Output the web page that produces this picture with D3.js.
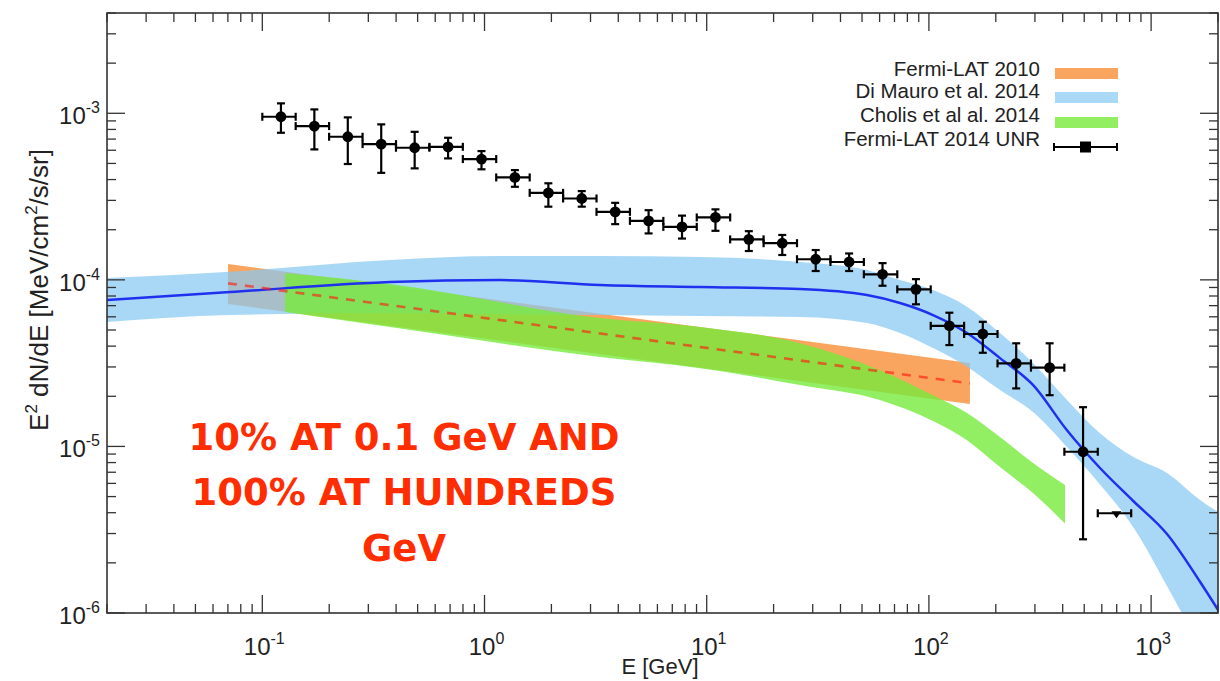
<!DOCTYPE html>
<html><head><meta charset="utf-8">
<script src="https://cdn.jsdelivr.net/npm/d3@7"></script>
<style>body{margin:0;background:#fff}svg{display:block}</style>
</head><body><svg id="c" width="1220" height="681"></svg>
<script>
// ---- Fermi-LAT 2014 UNR data points (E [GeV], E^2 dN/dE) ----
const eU = [0.1213,0.1715,0.2425,0.3429,0.4849,0.6855,0.9692,1.370,1.938,2.739,3.873,5.476,7.743,10.95,15.47,21.88,30.94,43.74,61.84,87.44,123.6,174.8,247.1,349.4,494.0];
const fluxU = [9.53e-4,8.38e-4,7.23e-4,6.53e-4,6.21e-4,6.29e-4,5.31e-4,4.12e-4,3.33e-4,3.08e-4,2.56e-4,2.26e-4,2.08e-4,2.37e-4,1.75e-4,1.66e-4,1.33e-4,1.28e-4,1.08e-4,8.77e-5,5.30e-5,4.73e-5,3.15e-5,2.97e-5,9.29e-6];
const fluxHiU = [1.147e-3,1.055e-3,9.45e-4,8.58e-4,7.74e-4,7.13e-4,5.93e-4,4.56e-4,3.80e-4,3.41e-4,2.90e-4,2.62e-4,2.43e-4,2.65e-4,1.96e-4,1.86e-4,1.51e-4,1.44e-4,1.26e-4,1.01e-4,6.35e-5,5.60e-5,4.16e-5,4.16e-5,1.72e-5];
const fluxLoU = [7.64e-4,6.07e-4,4.96e-4,4.39e-4,4.67e-4,5.36e-4,4.61e-4,3.62e-4,2.75e-4,2.75e-4,2.16e-4,1.90e-4,1.77e-4,1.97e-4,1.49e-4,1.41e-4,1.13e-4,1.13e-4,9.22e-5,7.13e-5,4.06e-5,3.65e-5,2.23e-5,2.03e-5,2.77e-6];
const binEdges = [0.1,0.1413,0.1998,0.2826,0.3996,0.5649,0.7988,1.129,1.597,2.258,3.192,4.513,6.380,9.020,12.75,18.03,25.49,36.05,50.96,72.05,101.9,144.0,203.6,287.9,407.0,575.4,813.5];
// upper limit
const ulE = [698.3];
const ulFlux = [3.97e-6];

// ---- Di Mauro et al. 2014 (band + central line) ----
const eDM = [0.02,0.0716,0.3756,1.174,3.31,9.33,26.3,52.6,74.1,104.3,148.4,208.9,294.0,418.2,588.8,828.6,1179,1660,2042];
const dmHi = [1.025e-4,1.12e-4,1.315e-4,1.39e-4,1.39e-4,1.37e-4,1.28e-4,1.145e-4,9.97e-5,8.69e-5,6.90e-5,4.80e-5,3.17e-5,1.90e-5,1.20e-5,8.67e-6,6.92e-6,4.77e-6,3.98e-6];
const dmLo = [5.58e-5,6.15e-5,6.32e-5,6.23e-5,6.15e-5,6.07e-5,5.98e-5,5.51e-5,4.80e-5,3.90e-5,3.01e-5,2.18e-5,1.61e-5,9.92e-6,5.9e-6,3.3e-6,1.45e-6,6e-7,3e-7];
const dmMid = [7.56e-5,8.45e-5,9.70e-5,9.97e-5,9.31e-5,9.05e-5,8.81e-5,8.10e-5,7.26e-5,6.15e-5,4.80e-5,3.39e-5,2.34e-5,1.25e-5,7.42e-6,4.72e-6,2.98e-6,1.54e-6,1.0e-6];

// ---- Fermi-LAT 2010 (band + dashed central line) ----
const eF10 = [0.0701,153];
const f10Hi = [1.244e-4,3.17e-5];
const f10Lo = [7.16e-5,1.80e-5];
const f10Mid = [9.53e-5,2.39e-5];

// ---- Cholis et al. 2014 band ----
const eCh = [0.1265,0.3756,3.31,9.33,26.3,60.2,104.3,148.4,208.9,294.0,409.7];
const chHi = [1.099e-4,9.44e-5,5.90e-5,5.21e-5,4.17e-5,2.87e-5,2.03e-5,1.59e-5,1.14e-5,7.95e-6,5.87e-6];
const chLo = [6.41e-5,5.21e-5,3.44e-5,2.95e-5,2.34e-5,1.90e-5,1.42e-5,1.09e-5,7.52e-6,5.25e-6,3.45e-6];

// ---- ticks / labels ----
const xMajor = [0.1,1,10,100,1000];
const xMajorExp = ["-1","0","1","2","3"];
const yMajor = [1e-6,1e-5,1e-4,1e-3];
const yMajorExp = ["-6","-5","-4","-3"];
const legendLabels = ["Fermi-LAT 2010","Di Mauro et al. 2014","Cholis et al al. 2014","Fermi-LAT 2014 UNR"];
const legendColors = ["#f9a55f","#aad8f7","#93ee62",null];
const noteLines = ["10% AT 0.1 GeV AND","100% AT HUNDREDS","GeV"];

// ---- layout ----
const L=107, R=1218, T=13, B=613;
const svg = d3.select("#c");
const x = d3.scaleLog().domain([0.02,2000]).range([L,R]);
const y = d3.scaleLog().domain([1e-6,4e-3]).range([B,T]);
const FONT = "'Liberation Sans', Arial, Helvetica, sans-serif";

svg.append("defs").append("clipPath").attr("id","clip")
  .append("rect").attr("x",L).attr("y",T).attr("width",R-L).attr("height",B-T);
const g = svg.append("g").attr("clip-path","url(#clip)");

const band = (es,lo,hi)=>es.map((e,i)=>({e,lo:lo[i],hi:hi[i]}));
const area = d3.area().x(d=>x(d.e)).y0(d=>y(d.lo)).y1(d=>y(d.hi)).curve(d3.curveMonotoneX);
const line = d3.line().x(d=>x(d.e)).y(d=>y(d.v)).curve(d3.curveMonotoneX);

g.append("path").attr("d",area(band(eF10,f10Lo,f10Hi))).attr("fill","#f9a55f");
g.append("path").attr("d",area(band(eDM,dmLo,dmHi))).attr("fill","#88c9f3").attr("fill-opacity",0.72);
g.append("path").attr("d",area(band(eCh,chLo,chHi))).attr("fill","#77ea3b").attr("fill-opacity",0.8);
g.append("path").attr("d",line(eDM.map((e,i)=>({e,v:dmMid[i]})))).attr("fill","none")
  .attr("stroke","#1f30ee").attr("stroke-width",2.5);
g.append("path").attr("d",line(eF10.map((e,i)=>({e,v:f10Mid[i]})))).attr("fill","none")
  .attr("stroke","#ff1a10").attr("stroke-opacity",0.62).attr("stroke-width",2.6).attr("stroke-dasharray","9,8");

// data points
const pts = g.append("g").attr("stroke","#000").attr("stroke-width",2.2);
const cap=4;
eU.forEach((e,i)=>{
  const cx=x(e), cy=y(fluxU[i]);
  const x0=x(binEdges[i]), x1=x(binEdges[i+1]);
  const yh=y(fluxHiU[i]), yl=y(fluxLoU[i]);
  pts.append("line").attr("x1",x0).attr("x2",x1).attr("y1",cy).attr("y2",cy);
  pts.append("line").attr("x1",x0).attr("x2",x0).attr("y1",cy-cap).attr("y2",cy+cap);
  pts.append("line").attr("x1",x1).attr("x2",x1).attr("y1",cy-cap).attr("y2",cy+cap);
  pts.append("line").attr("x1",cx).attr("x2",cx).attr("y1",yh).attr("y2",yl);
  pts.append("line").attr("x1",cx-cap).attr("x2",cx+cap).attr("y1",yh).attr("y2",yh);
  pts.append("line").attr("x1",cx-cap).attr("x2",cx+cap).attr("y1",yl).attr("y2",yl);
  pts.append("circle").attr("cx",cx).attr("cy",cy).attr("r",5.4).attr("fill","#000").attr("stroke","none");
});
ulE.forEach((e,i)=>{
  const cx=x(e), cy=y(ulFlux[i]);
  const x0=x(binEdges[25+i]), x1=x(binEdges[26+i]);
  pts.append("line").attr("x1",x0).attr("x2",x1).attr("y1",cy).attr("y2",cy);
  pts.append("line").attr("x1",x0).attr("x2",x0).attr("y1",cy-cap).attr("y2",cy+cap);
  pts.append("line").attr("x1",x1).attr("x2",x1).attr("y1",cy-cap).attr("y2",cy+cap);
  pts.append("path").attr("d",`M${cx-5},${cy-2}L${cx+5},${cy-2}L${cx},${cy+5}Z`).attr("fill","#000").attr("stroke","none");
});

// frame & ticks
const ax = svg.append("g").attr("stroke","#333").attr("stroke-width",1.3);
ax.append("rect").attr("x",L).attr("y",T).attr("width",R-L).attr("height",B-T).attr("fill","none").attr("stroke-width",1.6);
const xt=[]; for(let p=-2;p<=3;p++) for(let m=1;m<=9;m++){const v=m*Math.pow(10,p); if(v>=0.02&&v<=2000) xt.push({v,major:m===1});}
xt.forEach(t=>{const px=x(t.v), len=t.major?18:9;
  ax.append("line").attr("x1",px).attr("x2",px).attr("y1",B).attr("y2",B-len);
  ax.append("line").attr("x1",px).attr("x2",px).attr("y1",T).attr("y2",T+len);});
const yt=[]; for(let p=-6;p<=-3;p++) for(let m=1;m<=9;m++){const v=m*Math.pow(10,p); if(v>=1e-6&&v<=4e-3) yt.push({v,major:m===1});}
yt.forEach(t=>{const py=y(t.v), len=t.major?18:9;
  ax.append("line").attr("x1",L).attr("x2",L+len).attr("y1",py).attr("y2",py);
  ax.append("line").attr("x1",R).attr("x2",R-len).attr("y1",py).attr("y2",py);});

// tick labels
const lab = svg.append("g").attr("font-family",FONT).attr("fill","#222");
xMajor.forEach((v,i)=>{
  const t=lab.append("text").attr("x",x(v)+2).attr("y",655).attr("text-anchor","middle").attr("font-size",24);
  t.append("tspan").text("10");
  t.append("tspan").attr("font-size",16).attr("dy",-11).text(xMajorExp[i]);
});
yMajor.forEach((v,i)=>{
  const t=lab.append("text").attr("x",100).attr("y",y(v)+11).attr("text-anchor","end").attr("font-size",24);
  t.append("tspan").text("10");
  t.append("tspan").attr("font-size",16).attr("dy",-11).text(yMajorExp[i]);
});
lab.append("text").attr("x",660).attr("y",674).attr("text-anchor","middle").attr("font-size",22).text("E [GeV]");
const yl = lab.append("text").attr("transform","translate(48,290) rotate(-90)").attr("text-anchor","middle").attr("font-size",26);
yl.append("tspan").text("E");
yl.append("tspan").attr("font-size",17).attr("dy",-11).text("2");
yl.append("tspan").attr("dy",11).text(" dN/dE [MeV/cm");
yl.append("tspan").attr("font-size",17).attr("dy",-11).text("2");
yl.append("tspan").attr("dy",11).text("/s/sr]");

// legend
const lg = svg.append("g").attr("font-family",FONT).attr("font-size",20.5).attr("fill","#222");
const rowY=[68,90,114,138];
const swY=[68,92,117];
legendLabels.forEach((s,i)=>{
  lg.append("text").attr("x",1040).attr("y",rowY[i]+7.5).attr("text-anchor","end").text(s);
  if(legendColors[i]) lg.append("rect").attr("x",1055).attr("y",swY[i]).attr("width",63).attr("height",11).attr("fill",legendColors[i]);
});
const ly=147;
const le=lg.append("g").attr("stroke","#000").attr("stroke-width",2);
le.append("line").attr("x1",1054).attr("x2",1117).attr("y1",ly).attr("y2",ly);
le.append("line").attr("x1",1054).attr("x2",1054).attr("y1",ly-4).attr("y2",ly+4);
le.append("line").attr("x1",1117).attr("x2",1117).attr("y1",ly-4).attr("y2",ly+4);
le.append("rect").attr("x",1081).attr("y",ly-4.5).attr("width",9).attr("height",9).attr("fill","#000");

// annotation
const note = svg.append("g").attr("font-family","'Comic Sans MS','DejaVu Sans',sans-serif").attr("font-weight","bold")
  .attr("font-size",37).attr("fill","#ff2d00").attr("text-anchor","middle");
const noteY=[450,505,561];
noteLines.forEach((s,i)=>note.append("text").attr("x",404).attr("y",noteY[i]).text(s));
</script></body></html>
